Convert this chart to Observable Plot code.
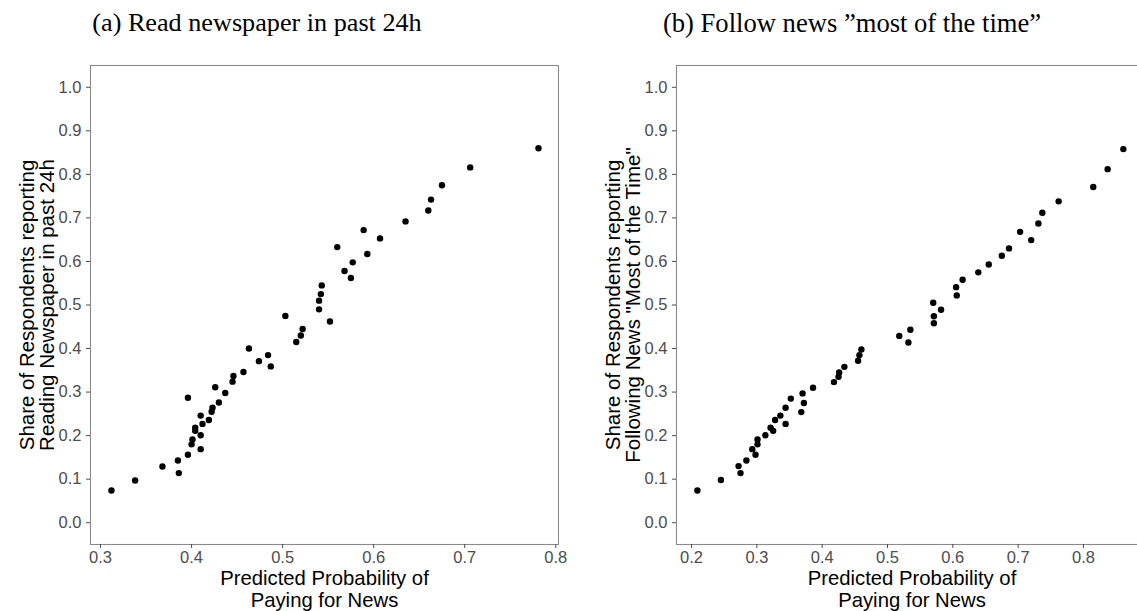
<!DOCTYPE html>
<html><head><meta charset="utf-8">
<script src="https://cdn.jsdelivr.net/npm/d3@7"></script>
<script src="https://cdn.jsdelivr.net/npm/@observablehq/plot@0.6"></script>
<style>
body{margin:0;width:1137px;height:611px;overflow:hidden;background:#fff;position:relative}
.title{position:absolute;font-family:"Liberation Serif","Times New Roman",serif;line-height:1;color:#000;white-space:nowrap;transform:translateX(-50%)}
.panel{position:absolute;top:40px}
.panel svg{max-width:none !important;display:block}
</style></head><body>
<div class="title" style="left:257px;top:10px;font-size:26.2px">(a) Read newspaper in past 24h</div>
<div class="title" style="left:852px;top:10px;font-size:26.6px">(b) Follow news ”most of the time”</div>
<div id="a" class="panel" style="left:0px;width:580px"></div>
<div id="b" class="panel" style="left:586px;width:583px"></div>
<script>
// Panel (a): Read newspaper in past 24h
const aX = [0.312,0.338,0.368,0.385,0.386,0.396,0.396,0.400,0.401,0.410,0.410,0.404,0.404,0.412,0.410,0.419,0.422,0.423,0.430,0.426,0.437,0.445,0.446,0.457,0.463,0.474,0.484,0.487,
            0.503,0.515,0.520,0.522,0.540,0.540,0.542,0.543,0.552,0.560,0.568,0.575,0.577,0.589,0.593,0.607,0.635,0.660,0.663,0.675,0.706,0.781];
const aY = [0.074,0.097,0.129,0.143,0.114,0.156,0.287,0.180,0.191,0.169,0.201,0.211,0.218,0.227,0.246,0.236,0.255,0.264,0.276,0.311,0.298,0.324,0.337,0.346,0.400,0.371,0.385,0.359,
            0.475,0.415,0.430,0.445,0.490,0.510,0.525,0.545,0.462,0.633,0.578,0.562,0.598,0.672,0.617,0.653,0.692,0.717,0.742,0.775,0.816,0.860];
// Panel (b): Follow news "most of the time"
const bX = [0.209,0.245,0.272,0.275,0.284,0.293,0.298,0.301,0.301,0.313,0.321,0.325,0.328,0.336,0.344,0.344,0.352,0.368,0.370,0.372,0.386,0.418,0.425,0.426,0.434,
            0.455,0.457,0.460,0.518,0.532,0.535,0.571,0.571,0.570,0.582,0.606,0.605,0.615,0.639,0.655,0.675,0.686,0.703,0.720,0.731,0.737,0.762,0.815,0.837,0.861];
const bY = [0.074,0.098,0.130,0.114,0.143,0.169,0.156,0.180,0.191,0.201,0.218,0.211,0.236,0.246,0.264,0.227,0.285,0.254,0.297,0.275,0.310,0.323,0.335,0.345,0.358,
            0.372,0.385,0.398,0.429,0.414,0.443,0.458,0.474,0.505,0.489,0.522,0.541,0.558,0.575,0.593,0.613,0.630,0.668,0.649,0.687,0.712,0.738,0.771,0.812,0.858];

const yTicks = [0,0.1,0.2,0.3,0.4,0.5,0.6,0.7,0.8,0.9,1.0];
const aXTicks = [0.3,0.4,0.5,0.6,0.7,0.8];
const bXTicks = [0.2,0.3,0.4,0.5,0.6,0.7,0.8];
const xTitle = "Predicted Probability of\nPaying for News";
const aYTitle = "Share of Respondents reporting\nReading Newspaper in past 24h";
const bYTitle = "Share of Respondents reporting\nFollowing News \"Most of the Time\"";

function panel(xs, ys, xDomain, xTicks, yTitle, width, marginRight) {
  const data = xs.map((x, i) => ({x, y: ys[i]}));
  return Plot.plot({
    width, height: 571,
    marginLeft: 90, marginRight, marginTop: 25, marginBottom: 67,
    style: {fontFamily: "'Liberation Sans', Arial, sans-serif", fontSize: "16.5px", background: "white", overflow: "visible", maxWidth: "none"},
    x: {domain: xDomain},
    y: {domain: [-0.05, 1.05]},
    marks: [
      Plot.frame({stroke: "#8a8a8a", strokeWidth: 1.1}),
      Plot.axisX(xTicks, {tickFormat: d3.format(".1f"), tickSize: 4, tickPadding: 3, color: "#4d4d4d", fontSize: 16.5, label: null}),
      Plot.axisY(yTicks, {tickFormat: d3.format(".1f"), tickSize: 4, tickPadding: 5, color: "#4d4d4d", fontSize: 16.5, label: null}),
      Plot.dot(data, {x: "x", y: "y", r: 3.2, fill: "black", stroke: "none"}),
      Plot.text([xTitle], {text: d => d, frameAnchor: "bottom", dy: 24, lineAnchor: "top", fontSize: 20.3, lineHeight: 1.12, fill: "black"}),
      Plot.text([yTitle], {text: d => d, frameAnchor: "left", rotate: -90, dx: -53, lineAnchor: "middle", textAnchor: "middle", fontSize: 20.5, lineHeight: 1.0, fill: "black"})
    ]
  });
}

document.getElementById("a").append(panel(aX, aY, [0.289, 0.803], aXTicks, aYTitle, 580, 22));
document.getElementById("b").append(panel(bX, bY, [0.177, 0.898], bXTicks, bYTitle, 583, 22));
</script>
</body></html>
